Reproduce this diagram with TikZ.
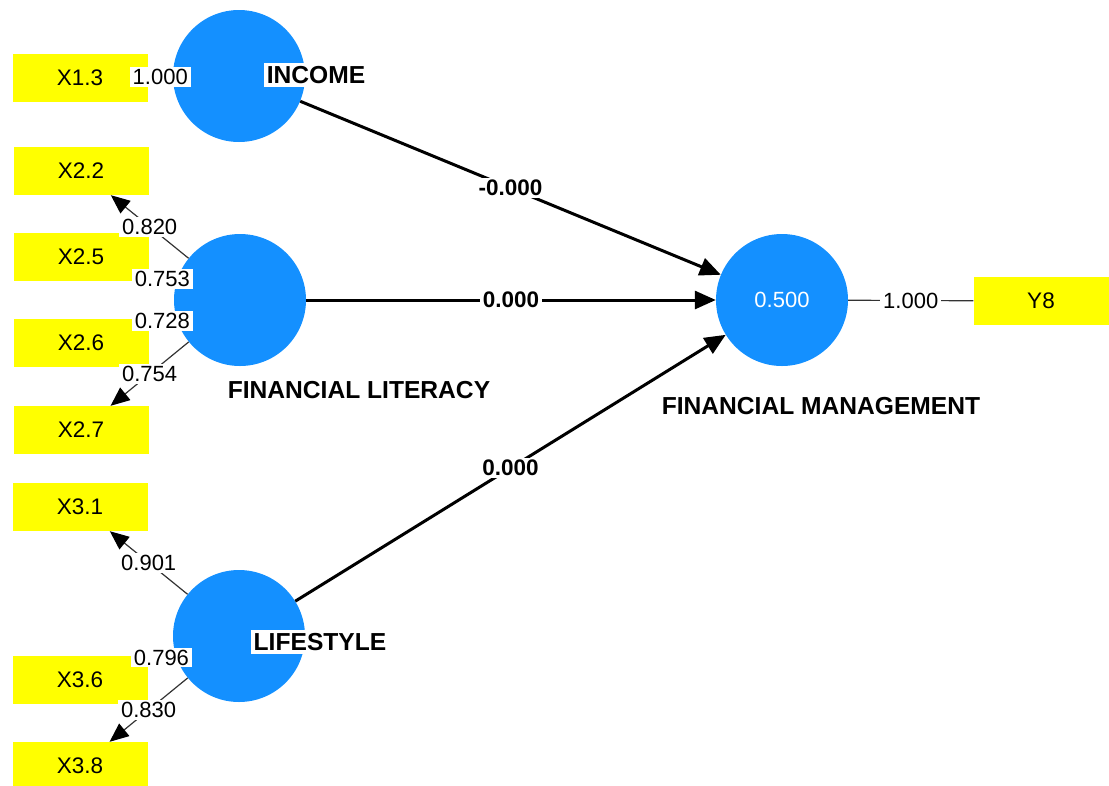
\documentclass[tikz,border=0pt]{standalone}
\usepackage{fontspec}
\setmainfont{Liberation Sans}
\usetikzlibrary{arrows.meta}
\definecolor{lvblue}{RGB}{20,144,255}
\definecolor{mvyellow}{RGB}{255,255,0}
\begin{document}
\begin{tikzpicture}[x=1pt,y=-1pt,
  lv/.style={circle,fill=lvblue,minimum size=132pt,inner sep=0pt,text=white,font=\fontsize{22}{24}\selectfont},
  mv/.style={rectangle,fill=mvyellow,minimum width=135pt,minimum height=48pt,inner sep=0pt,font=\fontsize{22.5}{24}\selectfont},
  load/.style={draw=black!80,line width=1.2pt,-{Triangle[length=19pt,width=16pt,color=black]}},
  plainload/.style={draw=black!80,line width=1.2pt},
  pathline/.style={draw=black,line width=3pt,-{Triangle[length=21pt,width=18pt]}},
  lbl/.style={fill=white,inner xsep=3pt,inner ysep=2pt,font=\fontsize{22}{24}\selectfont},
  plbl/.style={fill=white,inner xsep=3pt,inner ysep=2pt,font=\bfseries\fontsize{22.5}{24}\selectfont},
  cname/.style={fill=white,inner sep=3pt,font=\bfseries\fontsize{24.6}{27}\selectfont}
]
\useasboundingbox (0,0) rectangle (1109,785);

% constructs
\node[lv] (INC) at (239,76) {};
\node[lv] (FL) at (240,300) {};
\node[lv] (LS) at (239,636) {};
\node[lv] (FM) at (782,300) {0.500};

% indicators
\node[mv] (X13) at (80,78) {X1.3};
\node[mv] (X22) at (81,171) {X2.2};
\node[mv] (X25) at (81,257) {X2.5};
\node[mv] (X26) at (81,343) {X2.6};
\node[mv] (X27) at (81,430) {X2.7};
\node[mv] (X31) at (80,507) {X3.1};
\node[mv] (X36) at (80,680) {X3.6};
\node[mv] (X38) at (80,766) {X3.8};
\node[mv] (Y8) at (1041,301) {Y8};

% structural paths
\draw[pathline] (INC) -- node[plbl] {-0.000} (FM);
\draw[pathline] (FL) -- node[plbl] {0.000} (FM);
\draw[pathline] (LS) -- node[plbl] {0.000} (FM);

% loadings
\draw[load] (INC) -- node[lbl] {1.000} (X13);
\draw[load] (FL) -- node[lbl] {0.820} (X22);
\draw[load] (FL) -- node[lbl] {0.753} (X25);
\draw[load] (FL) -- node[lbl] {0.728} (X26);
\draw[load] (FL) -- node[lbl] {0.754} (X27);
\draw[load] (LS) -- node[lbl] {0.901} (X31);
\draw[load] (LS) -- node[lbl] {0.796} (X36);
\draw[load] (LS) -- node[lbl] {0.830} (X38);
\draw[plainload] (FM) -- node[lbl] {1.000} (Y8);

% construct names
\node[cname] (nINC) at (316,75) {INCOME};
\node[cname] (nFL) at (359,390) {FINANCIAL LITERACY};
\node[cname] (nLS) at (320,642) {LIFESTYLE};
\node[cname] (nFM) at (821,406) {FINANCIAL MANAGEMENT};
\end{tikzpicture}
\end{document}
